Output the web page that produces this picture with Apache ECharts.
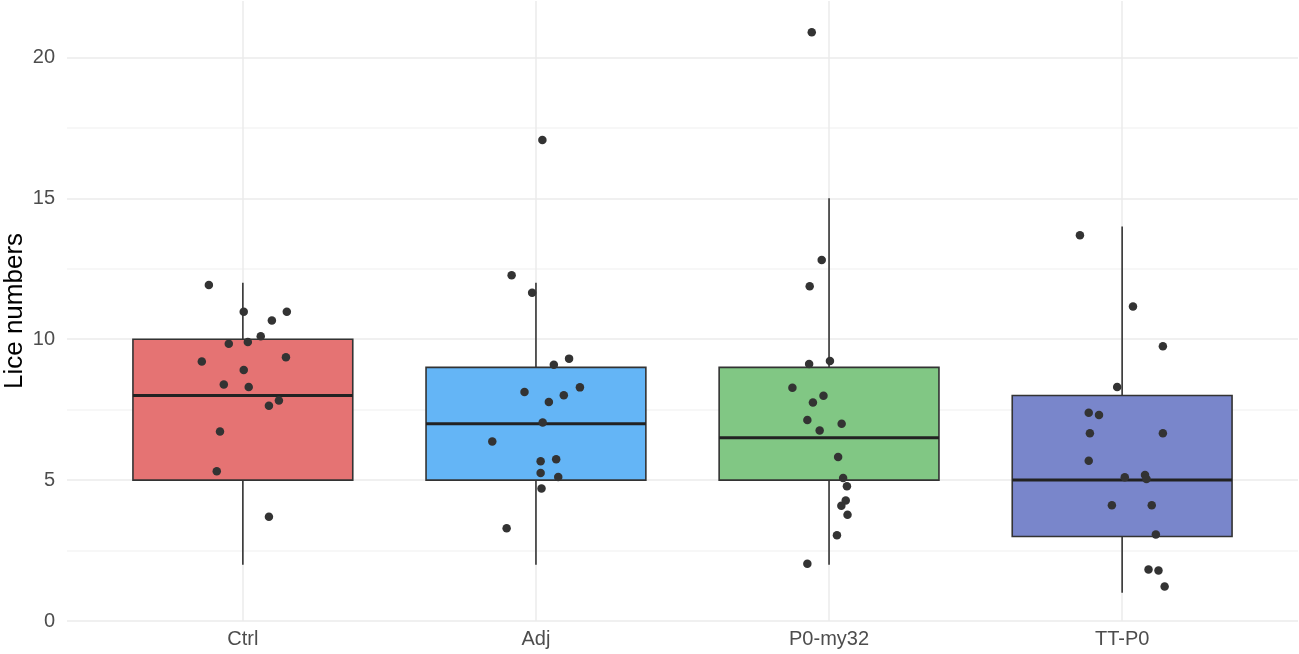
<!DOCTYPE html>
<html>
<head>
<meta charset="utf-8">
<title>Lice numbers</title>
<script src="https://cdn.jsdelivr.net/npm/echarts@6/dist/echarts.min.js"></script>
<style>
	html, body { margin: 0; padding: 0; background: #fff; }
	#chart { width: 1299px; height: 654px; }
</style>
</head>
<body>
<div id="chart"></div>
<script>
"use strict";

var categories = ['Ctrl', 'Adj', 'P0-my32', 'TT-P0'];

// box statistics per group
var boxMin = [2, 2, 2, 1];
var boxQ1 = [5, 5, 5, 3];
var boxMedian = [8, 7, 6.5, 5];
var boxQ3 = [10, 9, 9, 8];
var boxMax = [12, 12, 15, 14];

// jittered points: value and horizontal offset from the group centre
var ctrlValues = [11.92, 10.97, 10.97, 10.66, 10.10, 9.84, 9.90, 9.21, 9.36, 8.91, 8.39, 8.30, 7.82, 7.64, 6.72, 5.31, 3.70];
var ctrlJitter = [-0.116, 0.003, 0.150, 0.099, 0.061, -0.048, 0.017, -0.140, 0.147, 0.003, -0.065, 0.020, 0.123, 0.089, -0.078, -0.089, 0.089];

var adjValues = [17.07, 12.27, 11.65, 9.31, 9.09, 8.29, 8.13, 8.01, 7.77, 7.04, 6.37, 5.74, 5.67, 5.25, 5.11, 4.70, 3.29];
var adjJitter = [0.022, -0.083, -0.013, 0.113, 0.061, 0.150, -0.039, 0.095, 0.044, 0.023, -0.149, 0.069, 0.016, 0.016, 0.076, 0.019, -0.100];

var p0Values = [20.89, 12.81, 11.88, 9.12, 9.23, 8.28, 7.99, 7.75, 7.13, 7.00, 6.76, 5.82, 5.07, 4.78, 4.28, 4.09, 3.77, 3.04, 2.03];
var p0Jitter = [-0.059, -0.025, -0.066, -0.068, 0.003, -0.125, -0.019, -0.055, -0.074, 0.043, -0.032, 0.031, 0.048, 0.061, 0.057, 0.042, 0.063, 0.027, -0.074];

var ttValues = [13.69, 11.16, 9.75, 8.30, 7.39, 7.31, 6.66, 6.66, 5.69, 5.10, 5.18, 5.04, 4.11, 4.11, 3.07, 1.83, 1.79, 1.22];
var ttJitter = [-0.144, 0.037, 0.139, -0.017, -0.114, -0.079, -0.110, 0.139, -0.114, 0.009, 0.078, 0.083, -0.035, 0.101, 0.115, 0.090, 0.124, 0.145];

var yTicks = [0, 5, 10, 15, 20];

var boxColors = ['#E57373', '#64B5F6', '#81C784', '#7986CB'];
var ink = '#333333';
var font = 'Liberation Sans, Arial, sans-serif';

var groups = [
	[ctrlValues, ctrlJitter],
	[adjValues, adjJitter],
	[p0Values, p0Jitter],
	[ttValues, ttJitter]
];

var boxData = [];
for (var i = 0; i < categories.length; i++) {
	boxData.push([i, boxMin[i], boxQ1[i], boxMedian[i], boxQ3[i], boxMax[i]]);
}

var pointData = [];
groups.forEach(function (g, gi) {
	for (var k = 0; k < g[0].length; k++) {
		pointData.push([gi + g[1][k], g[0][k]]);
	}
});

function renderBox(params, api) {
	var x = api.value(0),
		lo = api.coord([x, api.value(1)]),
		q1 = api.coord([x, api.value(2)]),
		med = api.coord([x, api.value(3)]),
		q3 = api.coord([x, api.value(4)]),
		hi = api.coord([x, api.value(5)]),
		half = api.size([0.75, 0])[0] / 2,
		line = {stroke: ink, lineWidth: 1.6};

	return {
		type: 'group',
		children: [
			{type: 'line', shape: {x1: hi[0], y1: hi[1], x2: q3[0], y2: q3[1]}, style: line},
			{type: 'line', shape: {x1: q1[0], y1: q1[1], x2: lo[0], y2: lo[1]}, style: line},
			{
				type: 'rect',
				shape: {x: q3[0] - half, y: q3[1], width: half * 2, height: q1[1] - q3[1]},
				style: {fill: boxColors[params.dataIndex], stroke: ink, lineWidth: 1.6}
			},
			{
				type: 'line',
				shape: {x1: med[0] - half, y1: med[1], x2: med[0] + half, y2: med[1]},
				style: {stroke: '#222222', lineWidth: 3}
			}
		]
	};
}

var chart = echarts.init(document.getElementById('chart'));

chart.setOption({
	animation: false,
	backgroundColor: '#ffffff',
	textStyle: {fontFamily: font},
	grid: {left: 67, right: 1, top: 1, bottom: 33, containLabel: false, outerBoundsMode: 'none'},
	xAxis: {
		type: 'value',
		min: -0.6,
		max: 3.6,
		splitNumber: 4,
		axisLine: {show: false},
		axisTick: {show: false},
		axisLabel: {
			color: '#4d4d4d',
			fontSize: 20,
			fontFamily: font,
			margin: 8,
			showMinLabel: false,
			showMaxLabel: false,
			formatter: function (v) {
				var r = Math.round(v);
				return Math.abs(v - r) < 1e-6 && categories[r] ? categories[r] : '';
			}
		},
		splitLine: {
			show: true,
			showMinLine: false,
			showMaxLine: false,
			lineStyle: {color: '#ebebeb', width: 1.5}
		}
	},
	yAxis: {
		type: 'value',
		min: 0,
		max: 22,
		interval: 2.5,
		name: 'Lice numbers',
		nameLocation: 'middle',
		nameGap: 39,
		nameMoveOverlap: false,
		nameTextStyle: {color: '#000000', fontSize: 26, fontFamily: font},
		axisLine: {show: false},
		axisTick: {show: false},
		axisLabel: {
			color: '#4d4d4d',
			fontSize: 20,
			fontFamily: font,
			margin: 12,
			showMaxLabel: false,
			formatter: function (v) {
				return yTicks.indexOf(v) >= 0 ? String(v) : '';
			}
		},
		splitLine: {
			show: true,
			showMaxLine: false,
			lineStyle: {color: ['#ebebeb', '#f4f4f4'], width: 1.5}
		}
	},
	series: [
		{
			type: 'custom',
			name: 'boxes',
			renderItem: renderBox,
			encode: {x: 0, y: [1, 2, 3, 4, 5]},
			data: boxData,
			z: 2
		},
		{
			type: 'scatter',
			name: 'points',
			data: pointData,
			symbolSize: 8.5,
			itemStyle: {color: ink, opacity: 1},
			z: 3
		}
	]
});
</script>
</body>
</html>
